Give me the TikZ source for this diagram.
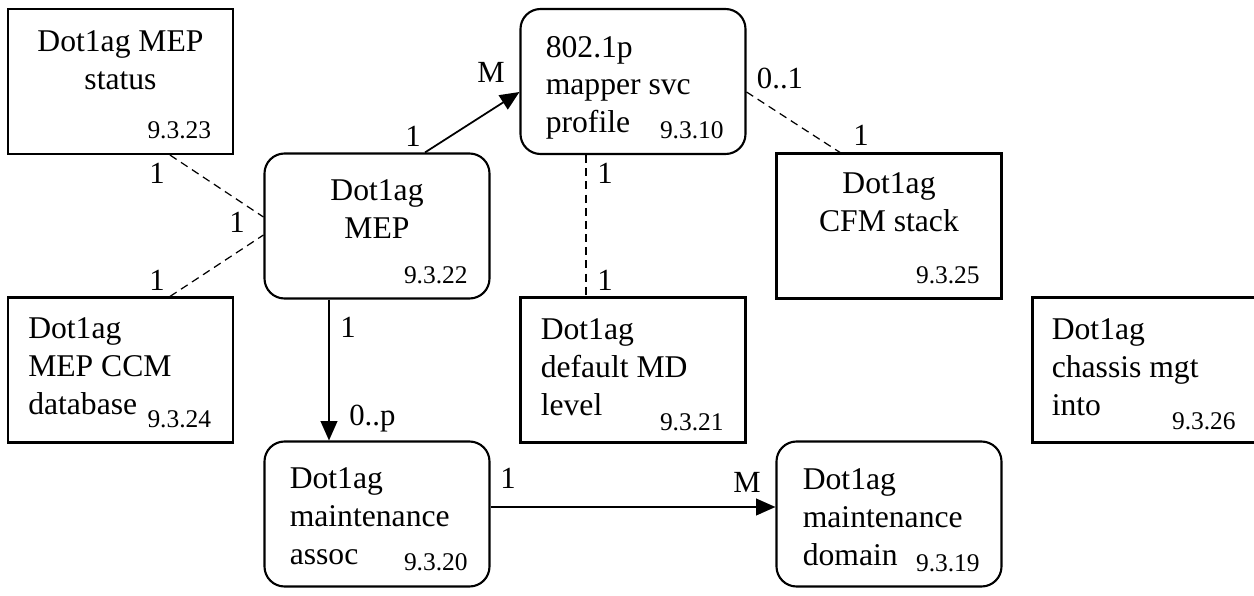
\documentclass[tikz,border=0pt]{standalone}
\usepackage{fontspec}
\setmainfont{Liberation Serif}
\usetikzlibrary{arrows.meta}

\tikzset{
    ent/.style = {draw, line width=1.2pt, minimum width=4.5cm, minimum height=2.9cm, inner sep=0pt},
    entr/.style = {ent, rounded corners=0.4cm},
    txt/.style = {font=\fontsize{18}{21.6}\selectfont, inner sep=0pt, align=left},
    num/.style = {font=\fontsize{14.5}{17}\selectfont, inner sep=0pt, anchor=base east},
    card/.style = {font=\fontsize{17.5}{20}\selectfont, inner sep=0pt},
    rel/.style = {line width=1pt, -{Triangle[length=11pt,width=9.5pt]}},
    opt/.style = {line width=0.7pt, dash pattern=on 4.5pt off 3pt},
}

\begin{document}
\begin{tikzpicture}
        \useasboundingbox (0,0) rectangle (25.08,-11.92);
        % boxes
        \node[ent]  (status)  at (2.41,-1.63)  {};
        \node[entr] (mep)     at (7.54,-4.52)  {};
        \node[entr] (mapper)  at (12.66,-1.63) {};
        \node[ent]  (cfm)     at (17.78,-4.52) {};
        \node[ent]  (ccm)     at (2.41,-7.40)  {};
        \node[ent]  (mdlevel) at (12.66,-7.40) {};
        \node[ent]  (chassis) at (22.90,-7.40) {};
        \node[entr] (assoc)   at (7.54,-10.28) {};
        \node[entr] (domain)  at (17.78,-10.28) {};
        % texts (anchor = baseline of the last line)
        \node[txt, align=center, anchor=base] (status-t) at ([yshift=-1.64cm]status.north) {Dot1ag MEP\\status};
        \node[txt, align=center, anchor=base] (mep-t) at ([yshift=-1.72cm]mep.north) {Dot1ag\\MEP};
        \node[txt, anchor=base west] (mapper-t) at ([xshift=0.52cm,yshift=-2.50cm]mapper.north west) {802.1p\\mapper svc\\profile};
        \node[txt, align=center, anchor=base] (cfm-t) at ([yshift=-1.58cm]cfm.north) {Dot1ag\\CFM stack};
        \node[txt, anchor=base west] (ccm-t) at ([xshift=0.42cm,yshift=-2.36cm]ccm.north west) {Dot1ag\\MEP CCM\\database};
        \node[txt, anchor=base west] (mdlevel-t) at ([xshift=0.42cm,yshift=-2.38cm]mdlevel.north west) {Dot1ag\\default MD\\level};
        \node[txt, anchor=base west] (chassis-t) at ([xshift=0.40cm,yshift=-2.38cm]chassis.north west) {Dot1ag\\chassis mgt\\into};
        \node[txt, anchor=base west] (assoc-t) at ([xshift=0.52cm,yshift=-2.48cm]assoc.north west) {Dot1ag\\maintenance\\assoc};
        \node[txt, anchor=base west] (domain-t) at ([xshift=0.54cm,yshift=-2.50cm]domain.north west) {Dot1ag\\maintenance\\domain};
        % section numbers
        \node[num] (status-n)  at ([xshift=-0.45cm,yshift=0.34cm]status.south east)  {9.3.23};
        \node[num] (mep-n)     at ([xshift=-0.45cm,yshift=0.32cm]mep.south east)     {9.3.22};
        \node[num] (mapper-n)  at ([xshift=-0.45cm,yshift=0.34cm]mapper.south east)  {9.3.10};
        \node[num] (cfm-n)     at ([xshift=-0.45cm,yshift=0.32cm]cfm.south east)     {9.3.25};
        \node[num] (ccm-n)     at ([xshift=-0.45cm,yshift=0.32cm]ccm.south east)     {9.3.24};
        \node[num] (mdlevel-n) at ([xshift=-0.45cm,yshift=0.26cm]mdlevel.south east) {9.3.21};
        \node[num] (chassis-n) at ([xshift=-0.45cm,yshift=0.28cm]chassis.south east) {9.3.26};
        \node[num] (assoc-n)   at ([xshift=-0.45cm,yshift=0.34cm]assoc.south east)   {9.3.20};
        \node[num] (domain-n)  at ([xshift=-0.45cm,yshift=0.32cm]domain.south east)  {9.3.19};
        % connectors
        \draw[rel] ([xshift=0.96cm]mep.north) -- ([yshift=-0.21cm]mapper.west);
        \draw[rel] ([xshift=-0.96cm]mep.south) -- ([xshift=-0.96cm]assoc.north);
        \draw[rel] ([yshift=0.14cm]assoc.east) -- ([yshift=0.14cm]domain.west);
        \draw[opt] ([xshift=0.99cm]status.south) -- ([yshift=0.18cm]mep.west);
        \draw[opt] ([xshift=0.99cm]ccm.north) -- ([yshift=-0.18cm]mep.west);
        \draw[opt] ([xshift=-0.94cm]mapper.south) -- ([xshift=-0.94cm]mdlevel.north);
        \draw[opt] ([yshift=-0.21cm]mapper.east) -- ([xshift=-0.98cm]cfm.north);
        % cardinalities
        \node[card] (c-mep-up)     at (8.26,-2.72)  {1};
        \node[card] (c-mapper-in)  at (9.82,-1.44)  {M};
        \node[card] (c-status)     at (3.14,-3.46)  {1};
        \node[card] (c-mep-left)   at (4.74,-4.44)  {1};
        \node[card] (c-ccm)        at (3.14,-5.60)  {1};
        \node[card] (c-mapper-dn)  at (12.10,-3.46) {1};
        \node[card] (c-mdlevel)    at (12.10,-5.60) {1};
        \node[card] (c-mapper-rt)  at (15.60,-1.56) {0..1};
        \node[card] (c-cfm)        at (17.22,-2.70) {1};
        \node[card] (c-mep-dn)     at (6.96,-6.54)  {1};
        \node[card, anchor=base west] (c-assoc-in) at (6.98,-8.50) {0..p};
        \node[card] (c-assoc-rt)   at (10.16,-9.56) {1};
        \node[card] (c-domain)     at (14.94,-9.64) {M};
\end{tikzpicture}
\end{document}
